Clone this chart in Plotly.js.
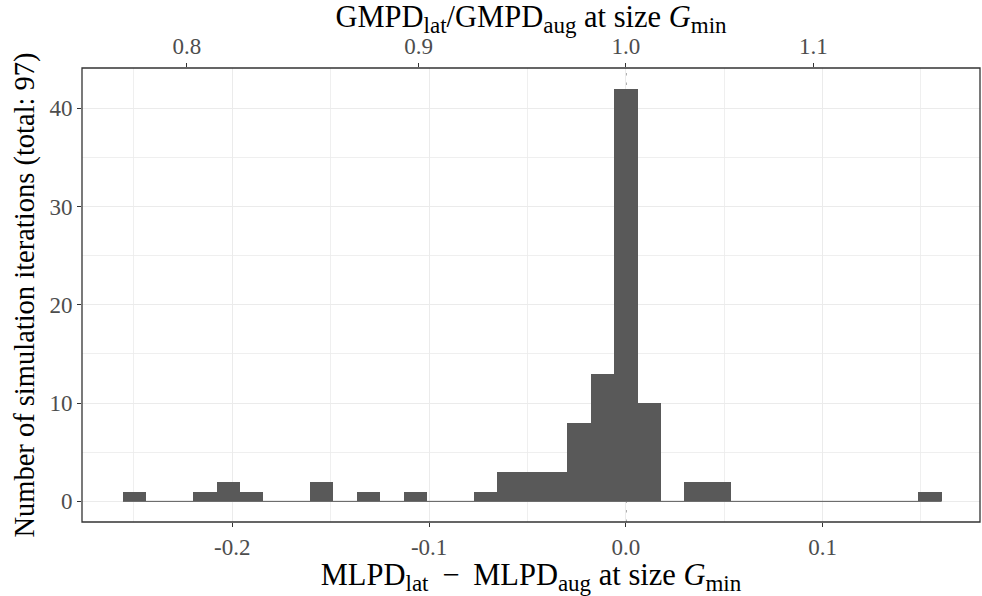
<!DOCTYPE html>
<html>
<head>
<meta charset="utf-8">
<script src="https://cdn.plot.ly/plotly-3.0.1.min.js"></script>
<style>html,body{margin:0;padding:0;background:#fff;}#chart{width:982px;height:596px;}</style>
</head>
<body>
<div id="chart"></div>
<script>
// ---- data ----
const binWidth = 0.011888;               // histogram bin width (MLPD difference units)
const binIndex = [-21,-20,-19,-18,-17,-16,-15,-14,-13,-12,-11,-10,-9,-8,-7,-6,-5,-4,-3,-2,-1,0,1,2,3,4,5,6,7,8,9,10,11,12,13];
const counts   = [  1,  0,  0,  1,  2,  1,  0,  0,  2,  0,  1,  0, 1, 0, 0, 1, 3, 3, 3, 8,13,42,10,0,2,2,0,0,0,0,0,0,0,0,1];
const bottomTicks = [-0.2, -0.1, 0.0, 0.1];
const bottomTickText = ["-0.2", "-0.1", "0.0", "0.1"];
const ratioTicks = [0.8, 0.9, 1.0, 1.1];
const ratioTickText = ["0.8", "0.9", "1.0", "1.1"];
const yTicks = [0, 10, 20, 30, 40];

// ---- derived ----
const binCenters = binIndex.map(k => k * binWidth);
const firstEdge = binCenters[0] - binWidth / 2;
const lastEdge = binCenters[binCenters.length - 1] + binWidth / 2;
const topTickPos = ratioTicks.map(r => Math.log(r));

const FONT = "Liberation Serif, Times New Roman, serif";
const xRange = [-0.2764, 0.1800];
const yRange = [-2.1, 44.1];

const traces = [
  {
    type: "bar", x: binCenters, y: counts, width: binWidth,
    marker: {color: "#595959", line: {width: 0}},
    hoverinfo: "x+y", xaxis: "x", yaxis: "y"
  },
  {
    type: "scatter", mode: "lines", x: [firstEdge, lastEdge], y: [0, 0],
    line: {color: "#595959", width: 1}, hoverinfo: "skip", xaxis: "x", yaxis: "y"
  },
  {
    type: "scatter", mode: "none", x: topTickPos, y: topTickPos.map(() => 0),
    hoverinfo: "skip", xaxis: "x2", yaxis: "y"
  }
];

const tickFont = {family: FONT, size: 23, color: "#4D4D4D"};
const xTitleFont = {family: FONT, size: 30.5, color: "#000000"};
const yTitleFont = {family: FONT, size: 28.5, color: "#000000"};
const sub = s => '<sub><span style="font-size:23px">' + s + '</span></sub>';

const layout = {
  width: 982, height: 596,
  margin: {l: 82, r: 2, t: 68, b: 74, pad: 0},
  paper_bgcolor: "#ffffff", plot_bgcolor: "#ffffff",
  showlegend: false, bargap: 0,
  font: {family: FONT},
  xaxis: {
    range: xRange, tickvals: bottomTicks, ticktext: bottomTickText,
    ticks: "outside", ticklen: 4, tickwidth: 1.1, tickcolor: "#333333",
    tickfont: tickFont, showgrid: true, gridcolor: "#EBEBEB", gridwidth: 1,
    minor: {dtick: 0.05, tick0: 0, showgrid: true, gridcolor: "#EBEBEB", gridwidth: 0.8, ticks: ""},
    zeroline: false, showline: false, automargin: false,
    title: {text: "MLPD" + sub("lat") + " \u2009\u2212\u2009 MLPD" + sub("aug") + " at size <i>G</i>" + sub("min"), font: xTitleFont, standoff: 2}
  },
  xaxis2: {
    overlaying: "x", side: "top", anchor: "y", range: xRange,
    tickvals: topTickPos, ticktext: ratioTickText,
    ticks: "outside", ticklen: 4, tickwidth: 1.1, tickcolor: "#333333",
    tickfont: tickFont, showgrid: false, zeroline: false, showline: false, automargin: false,
    title: {text: "GMPD" + sub("lat") + "/GMPD" + sub("aug") + " at size <i>G</i>" + sub("min"), font: xTitleFont, standoff: 3}
  },
  yaxis: {
    range: yRange, tickvals: yTicks,
    ticks: "outside", ticklen: 4, tickwidth: 1.1, tickcolor: "#333333",
    tickfont: tickFont, showgrid: true, gridcolor: "#EBEBEB", gridwidth: 1,
    minor: {dtick: 5, tick0: 0, showgrid: true, gridcolor: "#EBEBEB", gridwidth: 0.8, ticks: ""},
    zeroline: false, showline: false, automargin: false,
    title: {text: "Number of simulation iterations (total: 97)", font: yTitleFont, standoff: 6}
  },
  shapes: [
    {type: "line", xref: "x", yref: "paper", x0: 0, x1: 0, y0: 0, y1: 1,
     layer: "between", line: {color: "#333333", width: 1.1, dash: "2.5px,7px"}},
    {type: "rect", xref: "paper", yref: "paper", x0: 0, x1: 1, y0: 0, y1: 1,
     layer: "above", line: {color: "#333333", width: 1.3}, fillcolor: "rgba(0,0,0,0)"}
  ]
};

Plotly.newPlot("chart", traces, layout, {staticPlot: true, displayModeBar: false});
</script>
</body>
</html>
